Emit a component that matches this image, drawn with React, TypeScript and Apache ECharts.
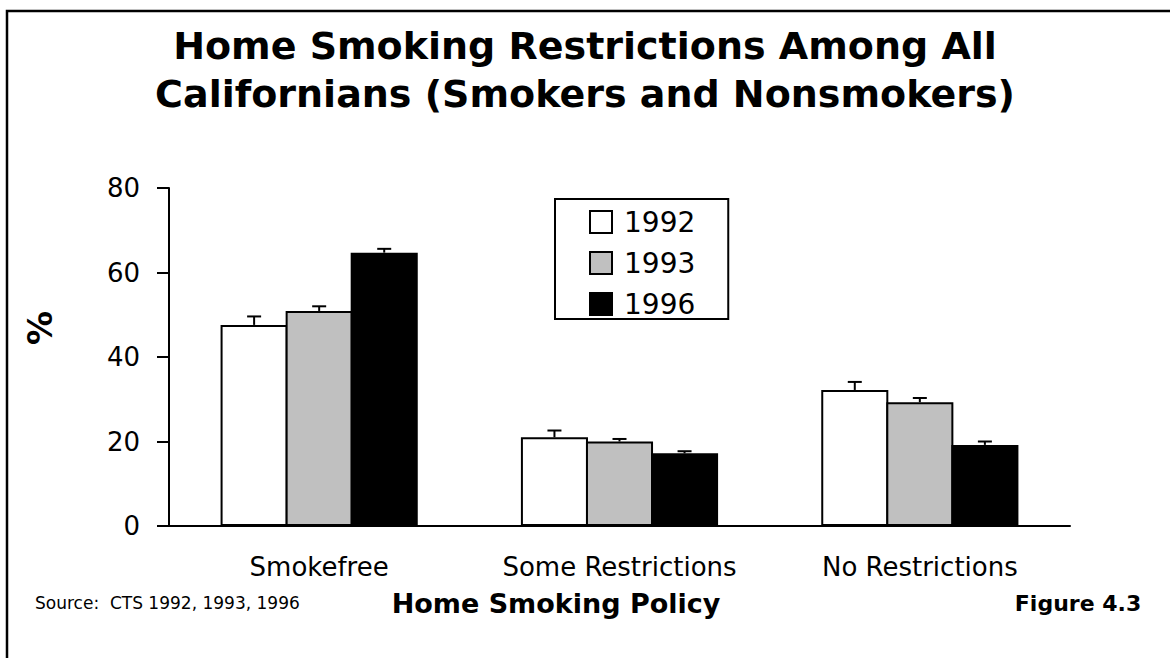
import React, { useEffect, useRef } from "react";
import * as echarts from "echarts";

const categories = ["Smokefree", "Some Restrictions", "No Restrictions"];
const years = ["1992", "1993", "1996"];
const values1992 = [47.6, 21.0, 32.2];
const values1993 = [50.9, 20.0, 29.3];
const values1996 = [64.7, 17.2, 19.2];
const err1992 = [2.0, 1.6, 1.9];
const err1993 = [1.1, 0.6, 1.0];
const err1996 = [0.9, 0.5, 0.8];
const yMin = 0;
const yMax = 80;
const yInterval = 20;

const FONT = "DejaVu Sans";
const fills = ["#ffffff", "#c0c0c0", "#000000"];

export default function App() {
  const ref = useRef<HTMLDivElement>(null);
  useEffect(() => {
    document.body.style.margin = "0";
    const chart = echarts.init(ref.current!, null, { renderer: "svg" });
    const valueSets = [values1992, values1993, values1996];
    const errSets = [err1992, err1993, err1996];
    const barWidthFrac = 0.2233;
    const gapFrac = -0.03;

    const barSeries = years.map((y, i) => ({
      name: y,
      type: "bar",
      data: valueSets[i],
      barWidth: "22.33%",
      barGap: "-3%",
      itemStyle: { color: fills[i], borderColor: "#000", borderWidth: 2 },
      z: 2,
    }));

    const errSeries = years.map((y, i) => ({
      name: y + " error",
      type: "custom",
      data: valueSets[i].map((v, k) => [k, v, errSets[i][k]]),
      encode: { x: 0, y: 1 },
      z: 3,
      renderItem: (params: any, api: any) => {
        const cat = api.value(0);
        const val = api.value(1);
        const err = api.value(2);
        const base = api.coord([cat, val]);
        const top = api.coord([cat, val + err]);
        const bw = api.size([1, 0])[0] * barWidthFrac;
        const x = base[0] + (i - 1) * bw * (1 + gapFrac);
        const style = { stroke: "#000", lineWidth: 2 };
        return {
          type: "group",
          children: [
            { type: "line", shape: { x1: x, y1: base[1], x2: x, y2: top[1] }, style },
            { type: "line", shape: { x1: x - 7, y1: top[1], x2: x + 7, y2: top[1] }, style },
          ],
        };
      },
    }));

    chart.setOption({
      animation: false,
      backgroundColor: "#ffffff",
      title: {
        text: "Home Smoking Restrictions Among All\nCalifornians (Smokers and Nonsmokers)",
        left: "center",
        top: 17,
        textStyle: {
          fontFamily: FONT,
          fontSize: 38,
          fontWeight: "bold",
          color: "#000",
          lineHeight: 48,
        },
      },
      legend: {
        data: years,
        orient: "vertical",
        left: 555,
        top: 199,
        padding: [9, 33, 1, 34],
        borderColor: "#000",
        borderWidth: 2,
        itemWidth: 22,
        itemHeight: 22,
        itemGap: 13,
        icon: "rect",
        textStyle: {
          fontFamily: FONT,
          fontSize: 28,
          lineHeight: 28,
          color: "#000",
          padding: [0, 0, 0, 7],
        },
      },
      grid: { left: 169, right: 100, top: 188, bottom: 132 },
      xAxis: {
        type: "category",
        data: categories,
        axisTick: { show: false },
        axisLine: { lineStyle: { color: "#000", width: 2 } },
        axisLabel: {
          interval: 0,
          fontFamily: FONT,
          fontSize: 26,
          color: "#000",
          margin: 28,
        },
      },
      yAxis: {
        type: "value",
        min: yMin,
        max: yMax,
        interval: yInterval,
        splitLine: { show: false },
        axisLine: { show: true, lineStyle: { color: "#000", width: 2 } },
        axisTick: { show: true, inside: false, length: 12, lineStyle: { color: "#000", width: 2 } },
        axisLabel: {
          fontFamily: FONT,
          fontSize: 26,
          color: "#000",
          margin: 29,
        },
      },
      graphic: [
        {
          type: "rect",
          shape: { x: 7, y: 11, width: 1200, height: 700 },
          style: { fill: "none", stroke: "#000", lineWidth: 2.5 },
          z: -1,
        },
        {
          type: "text",
          x: 40,
          y: 328,
          rotation: Math.PI / 2,
          style: {
            text: "%",
            fontFamily: FONT,
            fontSize: 34,
            fontWeight: "bold",
            fill: "#000",
            align: "center",
            verticalAlign: "middle",
          },
        },
        {
          type: "text",
          x: 35,
          y: 603,
          style: {
            text: "Source:  CTS 1992, 1993, 1996",
            fontFamily: FONT,
            fontSize: 17,
            fill: "#000",
            align: "left",
            verticalAlign: "middle",
          },
        },
        {
          type: "text",
          x: 556,
          y: 603,
          style: {
            text: "Home Smoking Policy",
            fontFamily: FONT,
            fontSize: 27,
            fontWeight: "bold",
            fill: "#000",
            align: "center",
            verticalAlign: "middle",
          },
        },
        {
          type: "text",
          x: 1078,
          y: 603,
          style: {
            text: "Figure 4.3",
            fontFamily: FONT,
            fontSize: 22,
            fontWeight: "bold",
            fill: "#000",
            align: "center",
            verticalAlign: "middle",
          },
        },
      ],
      series: [...barSeries, ...errSeries],
    });
    return () => chart.dispose();
  }, []);
  return (
    <div
      ref={ref}
      style={{ position: "absolute", left: 0, top: 0, width: 1170, height: 658 }}
    />
  );
}
